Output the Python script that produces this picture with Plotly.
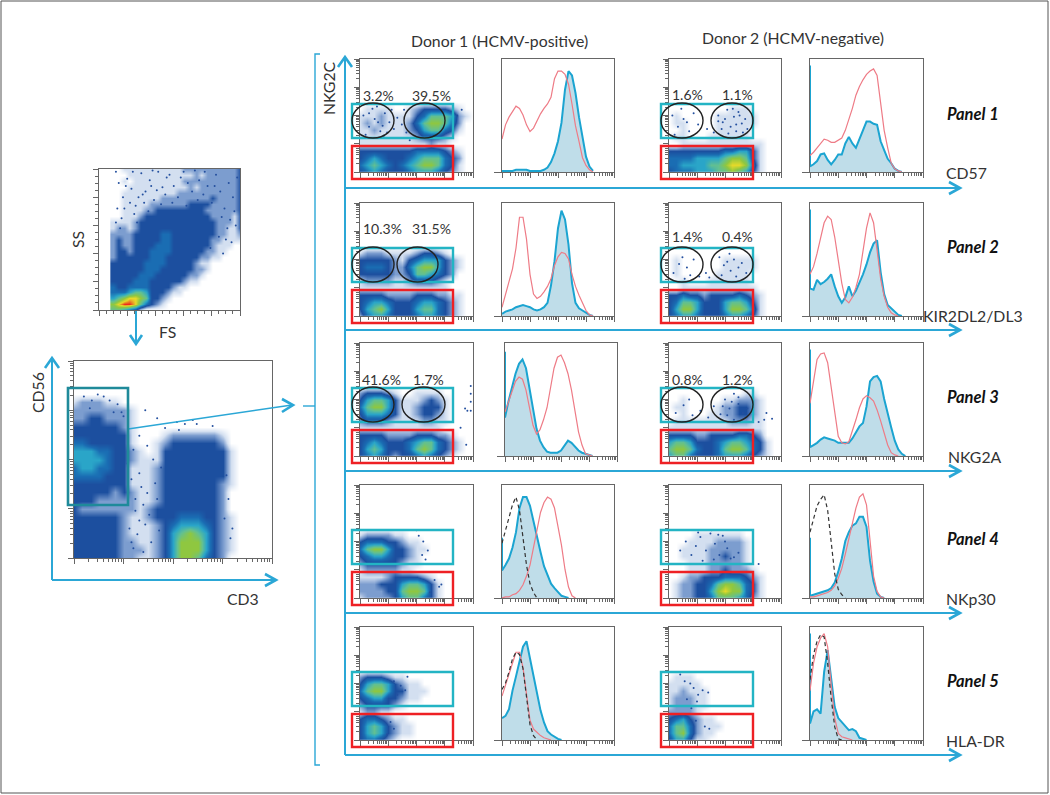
import math
import plotly.graph_objects as go

W, H = 1050, 795

# ---------- density grids (0 = empty ... 9 = densest); rows run top to bottom ----------
SS_FS = ["001111111111122222222223", "000111111111111212222223", "001011111111122222222223",
         "000111111111112122222223", "001111111111222222222223", "001111111222222222322223",
         "001111122222223333222223", "001111223333333332222223", "001112333333333333222213",
         "111123333333333333322213", "122123333333333333322113", "222233333443333333322112",
         "232233333443333333221111", "232233334443333333211100", "233233344443333332211000",
         "233333344433333322110000", "333333444433333211000000", "333333444333333221000000",
         "333334443333332210000000", "333344433333321100000000", "433444433332110000000000",
         "444566533321100000000000", "567887633210000000000000", "789986432100000000000000",
         "665431000000000000000000"]
CD56_CD3 = ["0000000000000000000000000", "0000000000000000000000000", "0000000000000000000000000",
            "0000000000000000000000000", "0000000000000000000000000", "1222110000000000000000000",
            "2222222100000000000000000", "2233222100000000000000000", "3333332100000000000000000",
            "3333333100012222221000000", "4433333100123333332000000", "5554433210133333333100000",
            "5555433211133333333100000", "4554433111233333333100000", "4444333111233333333100000",
            "3333333111233333332100000", "3333323211233333332000000", "3332222211233333332000000",
            "3222222212333333332000000", "3333332112333444332100000", "3333332111234555432100000",
            "3333332111235676532100000", "3333332211235777532100000", "3333332221235777532100000",
            "3333332211235776432000000"]
D1_P1 = ["00000000000000000", "01111001233332100", "11121111346665210", "12121112467764200",
         "11211112356643100", "11111111233321000", "11111111112110000", "33333333444432100",
         "34543334566643200", "45654345677643100", "34543334555432100"]
D1_P2 = ["00000000000000000", "12221111233210000", "33333213455532100", "34443224677532100",
         "33333223665432000", "12222112333210000", "11111111111110000", "33332222333221100",
         "34554333455432100", "35675333566432100", "24554333455432100"]
D1_P3 = ["00000000000000000", "23332100111100000", "35665311123210000", "46775311233310000",
         "35554311233210000", "23332111122110000", "11111111111100000", "33332222333221000",
         "34543334566432100", "35653334676432100", "34543233454321000"]
D1_P4 = ["00000000000000000", "12222110000000000", "34443321100000000", "46775332110000000",
         "34554332100000000", "23333321100000000", "12222211000000000", "11112333321000000",
         "22233356653100000", "22223367763100000", "12222356643100000"]
D1_P5 = ["00000000000000000", "23332110000000000", "35665321100000000", "46775331110000000",
         "34553321100000000", "23333210000000000", "12211000000000000", "34432110000000000",
         "35653211000000000", "35653211000000000", "34432100000000000"]
D2_P1 = ["00000000000000000", "00000000011100000", "01000001111110000", "01100001111110000",
         "00100001111100000", "01100011111100000", "00111111111111000", "33333333445531000",
         "44445555677631000", "44555566788741000", "34445556676531000"]
D2_P2 = ["00000000000000000", "00000000000000000", "01000000111110000", "01000000111110000",
         "01000001111100000", "00100011111100000", "00111111111110000", "33433233334321000",
         "34665333566531000", "35775333577641000", "34554333455431000"]
D2_P3 = ["00000000000000000", "00000000000110000", "00100000112221000", "01100001223321000",
         "00100011223321000", "01111111122211000", "11111111111111000", "33332233334432000",
         "56653334566543100", "67764334677643100", "56643334555432100"]
D2_P4 = ["00000000000000000", "00001111111000000", "00011112222100000", "00111122222100000",
         "00111122322100000", "00011122222100000", "00011122322210000", "00122333444321000",
         "01223346776431000", "01223357877431000", "01223346665421000"]
D2_P5 = ["00000000000000000", "01110000000000000", "11111000000000000", "11211100000000000",
         "12221100000000000", "12221100000000000", "22221000000000000", "34532110000000000",
         "46642111000000000", "46742110000000000", "35531100000000000"]

# scattered single events
SPARSE_SS_X = [.12,.14,.17,.20,.23,.26,.30,.33,.36,.39,.42,.45,.48,.13,.16,.19,.24,.28,.32,.35,.38,.41,.44,.47,.50,
               .53,.56,.60,.63,.66,.52,.58,.62,.68,.71,.74,.77,.80,.83,.86,.89,.92,.95,.98,.70,.75,.82,.87,.91,.96,
               .15,.22,.27,.12,.18,.25,.31,.37,.90,.94,.85,.79,.93,.88,.97]
SPARSE_SS_Y = [.98,.90,.80,.93,.86,.74,.97,.84,.92,.78,.98,.87,.94,.72,.65,.88,.98,.80,.76,.70,.99,.85,.75,.82,.96,
               .88,.80,.98,.90,.84,.76,.94,.74,.99,.92,.82,.88,.76,.96,.84,.72,.90,.80,.94,.78,.98,.88,.66,.58,.70,
               .58,.76,.62,.62,.72,.68,.82,.88,.50,.48,.52,.44,.64,.40,.60]
SPARSE_CD56_X = [.36,.42,.52,.56,.60,.33,.30,.37,.40,.33,.46,.53,.27,.29,.34,.31,.35,.38,.42,.28,.32,.36,.39,.43,
                 .30,.35,.41,.44,.31,.37,.29,.33,.77,.78,.76,.80,.79,.05,.12,.18,.22,.09,.15,.24,.08,.20,.25,.62,.70]
SPARSE_CD56_Y = [.75,.71,.69,.68,.70,.62,.55,.57,.50,.43,.66,.65,.48,.40,.36,.30,.27,.22,.30,.15,.12,.17,.08,.14,
                 .05,.03,.38,.46,.24,.33,.08,.19,.42,.30,.20,.15,.10,.82,.83,.80,.78,.80,.82,.74,.76,.74,.72,.68,.67]
SPARSE_D1_P1_X = [.03,.08,.13,.18,.22,.26,.30,.05,.11,.16,.20,.24,.28,.33,.37,.41,.08,.15,.21,.35,.39,.44,.86,.90,.84]
SPARSE_D1_P1_Y = [.50,.40,.47,.36,.52,.44,.38,.33,.56,.44,.41,.35,.55,.48,.42,.35,.52,.58,.32,.30,.55,.28,.50,.55,.42]
SPARSE_D1_P3_X = [.98,.98,.98,.93,.98,.95,.89,.94]
SPARSE_D1_P3_Y = [.62,.55,.48,.42,.40,.40,.25,.10]
SPARSE_D1_P4_X = [.52,.56,.60,.55,.58,.50,.62,.70,.72,.62,.66]
SPARSE_D1_P4_Y = [.55,.50,.42,.38,.34,.60,.30,.10,.12,.05,.16]
SPARSE_D1_P5_X = [.30,.36,.40,.42,.33,.27,.30,.24]
SPARSE_D1_P5_Y = [.52,.48,.44,.56,.40,.16,.10,.05]
SPARSE_D2_P1_X = [.03,.08,.13,.18,.22,.05,.11,.16,.26,.34,.40,.44,.48,.52,.55,.58,.60,.62,.65,.68,.70,.47,.53,.57,.63,.66,.44,.50,.60]
SPARSE_D2_P1_Y = [.50,.40,.47,.36,.52,.33,.56,.44,.42,.38,.35,.50,.44,.55,.40,.49,.36,.53,.43,.47,.38,.38,.34,.56,.50,.35,.45,.47,.42]
SPARSE_D2_P2_X = [.04,.09,.14,.19,.16,.22,.27,.33,.36,.45,.49,.52,.55,.58,.62,.65,.69,.47,.54,.60,.12]
SPARSE_D2_P2_Y = [.38,.46,.33,.36,.43,.50,.35,.38,.34,.52,.45,.48,.40,.50,.43,.47,.38,.36,.55,.35,.52]
SPARSE_D2_P3_X = [.06,.13,.18,.21,.28,.35,.40,.46,.50,.54,.58,.62,.66,.70,.75,.80,.85,.87,.92,.58,.52,.62,.48,.56]
SPARSE_D2_P3_Y = [.38,.45,.50,.36,.40,.34,.44,.37,.50,.42,.55,.46,.38,.42,.30,.30,.32,.38,.33,.32,.36,.52,.44,.48]
SPARSE_D2_P4_X = [.10,.15,.20,.24,.28,.33,.37,.41,.45,.48,.52,.55,.30,.35,.40,.44,.50,.53,.58,.62,.26,.38,.80]
SPARSE_D2_P4_Y = [.42,.50,.38,.46,.54,.42,.57,.48,.38,.55,.44,.35,.33,.30,.34,.56,.50,.30,.36,.40,.58,.60,.30]
SPARSE_D2_P5_X = [.14,.22,.26,.30,.35,.28,.32,.24,.36,.20,.10,.16,.19,.25]
SPARSE_D2_P5_Y = [.52,.46,.40,.44,.42,.30,.12,.17,.10,.28,.58,.36,.50,.34]

# ---------- histograms (percent of plot height) ----------
HIST_X = [i / 32 for i in range(33)]
H1_P1_BLUE = [1,1,1,1,2,2,2,2,1,1,1,1,2,4,9,17,28,45,75,92,88,72,50,30,14,5,1]
H1_P1_RED = [30,43,50,55,60,58,52,43,37,40,47,53,58,62,68,85,92,92,89,80,62,42,28,13,6,2,0]
H1_P2_BLUE = [2,4,5,6,8,9,10,9,8,6,5,6,8,12,28,50,80,96,88,65,30,12,7,5,3,1,0]
H1_P2_RED = [8,20,30,43,62,90,90,70,38,20,16,18,22,27,34,46,54,58,57,52,38,27,19,12,5,1,0]
H1_P3_BLUE = [35,50,62,75,84,88,80,62,45,25,14,8,4,3,3,3,5,10,14,12,8,5,3,2,1,0]
H1_P3_RED = [40,50,60,68,72,70,60,45,28,20,24,33,44,62,80,90,92,85,75,60,40,22,10,2,1,0]
H1_P4_BLUE = [25,30,36,46,60,82,92,92,84,70,55,42,29,20,13,9,5,2,1,0]
H1_P4_RED = [0,1,1,3,4,7,12,20,30,45,60,78,87,92,90,82,65,48,26,10,2,0]
H1_P4_DASH = [50,62,75,85,92,80,55,30,13,5,0]
H1_P5_BLUE = [20,22,28,45,58,72,85,90,75,60,43,27,16,8,5,3,1,0]
H1_P5_RED = [40,50,60,72,80,80,66,42,18,10,7,4,2,1,0]
H1_P5_DASH = [46,52,62,74,80,78,65,40,14,4,0]
H2_P1_BLUE = [5,7,10,16,17,11,7,11,16,16,26,32,26,22,30,38,46,46,44,43,28,20,12,8,3,1,0]
H2_P1_RED = [15,18,22,26,30,29,27,27,29,31,38,47,58,70,78,84,89,92,94,88,60,38,22,8,3,1,0]
H2_P2_BLUE = [25,24,33,29,31,34,38,27,18,12,17,27,18,23,30,38,47,58,66,69,40,20,10,7,4,1,0]
H2_P2_RED = [38,45,57,70,85,91,88,72,52,30,15,12,17,26,38,58,80,94,85,60,34,18,8,3,1,0]
H2_P3_BLUE = [8,10,12,15,17,16,15,14,12,12,12,12,16,22,27,30,45,68,72,73,68,52,38,26,14,6,2,0]
H2_P3_RED = [48,70,88,93,94,85,62,38,18,12,11,13,22,33,44,52,55,53,50,42,32,20,10,3,1,0]
H2_P4_BLUE = [2,3,4,5,6,7,9,14,24,36,52,60,66,68,74,74,65,34,15,4,1,0]
H2_P4_RED = [1,1,2,3,4,5,7,11,18,27,40,55,70,82,92,95,85,50,20,6,1,0]
H2_P4_DASH = [60,72,84,90,94,80,50,22,8,3,0]
H2_P5_BLUE = [15,26,28,24,62,82,55,30,20,16,12,9,10,8,2,1,0]
H2_P5_RED = [45,70,85,93,97,85,50,20,6,3,2,1,0]
H2_P5_DASH = [55,78,90,96,94,70,38,12,1,0]

PERCENTS_D1 = [("3.2%", "39.5%"), ("10.3%", "31.5%"), ("41.6%", "1.7%")]
PERCENTS_D2 = [("1.6%", "1.1%"), ("1.4%", "0.4%"), ("0.8%", "1.2%")]
MARKERS = ["CD57", "KIR2DL2/DL3", "NKG2A", "NKp30", "HLA-DR"]
PANELS = ["Panel 1", "Panel 2", "Panel 3", "Panel 4", "Panel 5"]

# ---------- styling / layout constants ----------
FONT = "Lato"
TXT = "#333333"
CY = "#2ba7d6"
FILL = "#bfdde9"
BLUE = "#1ba4d1"
RED = "#ee7b86"
COLORSCALE = [[0, "#ffffff"], [1/9, "#d3dff0"], [2/9, "#7c9dcf"], [3/9, "#1c4f9f"], [4/9, "#1a6db3"],
              [5/9, "#2aa5c8"], [6/9, "#62c092"], [7/9, "#8fc740"], [8/9, "#e6da2a"], [1, "#ee2a1e"]]
SUB = [math.log10(k) for k in range(2, 10)]
LOG_MAJOR = [0, .25, .5, .75, 1]
LOG_MINOR = [(d + s) / 4 for d in range(4) for s in SUB]
LIN_MAJOR = [0, .2, .4, .6, .8, 1]
LIN_MINOR = [i * .05 for i in range(21) if i % 4]

fig = go.Figure()
axis_count = [0]


def X(px):
    return px / W


def Y(py):
    return 1 - py / H


def new_axes(x0, x1, y0, y1, major=LOG_MAJOR, minor=LOG_MINOR, ymode="log"):
    axis_count[0] += 1
    n = axis_count[0]
    suffix = "" if n == 1 else str(n)
    base = dict(range=[0, 1], showgrid=False, zeroline=False, showline=True, mirror=True, linecolor="#666666",
                linewidth=1, ticks="outside", ticklen=5, tickcolor="#666666", tickwidth=1, showticklabels=False,
                fixedrange=True)
    xa = dict(base, domain=[X(x0), X(x1)], anchor="y" + suffix, tickmode="array", tickvals=major,
              minor=dict(tickmode="array", tickvals=minor, ticks="outside", ticklen=3, tickcolor="#666666"))
    ya = dict(base, domain=[Y(y1), Y(y0)], anchor="x" + suffix)
    if ymode == "log":
        ya.update(tickmode="array", tickvals=major,
                  minor=dict(tickmode="array", tickvals=minor, ticks="outside", ticklen=3, tickcolor="#666666"))
    else:
        ya.update(range=[0, 1.03], tickmode="array", tickvals=[0], ticklen=7)
    fig.update_layout({"xaxis" + suffix: xa, "yaxis" + suffix: ya})
    return "x" + suffix, "y" + suffix


def density(rows, box, xs, ys, major=LOG_MAJOR, minor=LOG_MINOR, sparse=None):
    xa, ya = new_axes(*box, major=major, minor=minor)
    z = [[int(c) for c in r] for r in rows]
    fig.add_trace(go.Heatmap(x=xs, y=ys, z=z, zmin=0, zmax=9, colorscale=COLORSCALE, zsmooth="best",
                             showscale=False, hoverinfo="skip", xaxis=xa, yaxis=ya))
    if sparse:
        fig.add_trace(go.Scatter(x=sparse[0], y=sparse[1], mode="markers", xaxis=xa, yaxis=ya, showlegend=False,
                                 marker=dict(size=2, color="#24509f"), hoverinfo="skip"))


def hist(box, blue, red, dash=None, edge=None):
    xa, ya = new_axes(*box, ymode="hist")
    bx, by = HIST_X[:len(blue)], blue
    if edge:
        bx, by = [0] + bx, [edge] + by
    by = [v / 100 for v in by]
    fig.add_trace(go.Scatter(x=bx, y=by, mode="lines", fill="tozeroy", fillcolor=FILL, showlegend=False,
                             line=dict(color=BLUE, width=2), xaxis=xa, yaxis=ya, hoverinfo="skip"))
    fig.add_trace(go.Scatter(x=HIST_X[:len(red)], y=[v / 100 for v in red], mode="lines", showlegend=False,
                             line=dict(color=RED, width=1.2), xaxis=xa, yaxis=ya, hoverinfo="skip"))
    if dash:
        fig.add_trace(go.Scatter(x=HIST_X[:len(dash)], y=[v / 100 for v in dash], mode="lines", showlegend=False,
                                 line=dict(color="#333333", width=1.2, dash="4px,3px"), xaxis=xa, yaxis=ya,
                                 hoverinfo="skip"))


# left-hand plots
density(SS_FS, (99, 240, 169, 310), xs=[.10 + i * .9 / 23 for i in range(24)], ys=[1 - j / 24 for j in range(25)],
        major=LIN_MAJOR, minor=LIN_MINOR, sparse=(SPARSE_SS_X, SPARSE_SS_Y))
density(CD56_CD3, (74, 272, 361, 558), xs=[i / 24 for i in range(25)], ys=[1 - j / 24 for j in range(25)],
        sparse=(SPARSE_CD56_X, SPARSE_CD56_Y))

TOPS = [59, 203, 343, 485, 627]
SMALL_X = [i / 16 for i in range(17)]
SMALL_Y = [(10 - j) / 16 for j in range(11)]
D1_ROWS = [D1_P1, D1_P2, D1_P3, D1_P4, D1_P5]
D2_ROWS = [D2_P1, D2_P2, D2_P3, D2_P4, D2_P5]
D1_SP = [(SPARSE_D1_P1_X, SPARSE_D1_P1_Y), None, (SPARSE_D1_P3_X, SPARSE_D1_P3_Y), (SPARSE_D1_P4_X, SPARSE_D1_P4_Y),
         (SPARSE_D1_P5_X, SPARSE_D1_P5_Y)]
D2_SP = [(SPARSE_D2_P1_X, SPARSE_D2_P1_Y), (SPARSE_D2_P2_X, SPARSE_D2_P2_Y), (SPARSE_D2_P3_X, SPARSE_D2_P3_Y),
         (SPARSE_D2_P4_X, SPARSE_D2_P4_Y), (SPARSE_D2_P5_X, SPARSE_D2_P5_Y)]
for i, t in enumerate(TOPS):
    density(D1_ROWS[i], (360, 473, t, t + 113), SMALL_X, SMALL_Y, sparse=D1_SP[i])
    density(D2_ROWS[i], (669, 781, t, t + 113), SMALL_X, SMALL_Y, sparse=D2_SP[i])

H1_LEFT = [502, 502, 505, 502, 502]
hist((H1_LEFT[0], H1_LEFT[0] + 112, TOPS[0], TOPS[0] + 113), H1_P1_BLUE, H1_P1_RED)
hist((H1_LEFT[1], H1_LEFT[1] + 112, TOPS[1], TOPS[1] + 113), H1_P2_BLUE, H1_P2_RED)
hist((H1_LEFT[2], H1_LEFT[2] + 112, TOPS[2], TOPS[2] + 113), H1_P3_BLUE, H1_P3_RED, edge=95)
hist((H1_LEFT[3], H1_LEFT[3] + 112, TOPS[3], TOPS[3] + 113), H1_P4_BLUE, H1_P4_RED, H1_P4_DASH, edge=55)
hist((H1_LEFT[4], H1_LEFT[4] + 112, TOPS[4], TOPS[4] + 113), H1_P5_BLUE, H1_P5_RED, H1_P5_DASH)
hist((810, 923, TOPS[0], TOPS[0] + 113), H2_P1_BLUE, H2_P1_RED, edge=97)
hist((810, 923, TOPS[1], TOPS[1] + 113), H2_P2_BLUE, H2_P2_RED, edge=97)
hist((810, 923, TOPS[2], TOPS[2] + 113), H2_P3_BLUE, H2_P3_RED, edge=97)
hist((810, 923, TOPS[3], TOPS[3] + 113), H2_P4_BLUE, H2_P4_RED, H2_P4_DASH, edge=55)
hist((810, 923, TOPS[4], TOPS[4] + 113), H2_P5_BLUE, H2_P5_RED, H2_P5_DASH, edge=97)

# ---------- overlay drawn in page pixels ----------
shapes = []


def seg(pts, color=CY, width=2):
    path = "M " + " L ".join(f"{X(a):.5f},{Y(b):.5f}" for a, b in pts)
    shapes.append(dict(type="path", path=path, xref="paper", yref="paper", layer="above",
                       line=dict(color=color, width=width)))


def rect(x0, y0, x1, y1, color, width=2.4):
    shapes.append(dict(type="rect", xref="paper", yref="paper", x0=X(x0), x1=X(x1), y0=Y(y0), y1=Y(y1),
                       layer="above", line=dict(color=color, width=width)))


def oval(x0, y0, x1, y1):
    shapes.append(dict(type="circle", xref="paper", yref="paper", x0=X(x0), x1=X(x1), y0=Y(y0), y1=Y(y1),
                       layer="above", line=dict(color="#222222", width=1.4)))


def arrow_r(x0, y, x1):
    seg([(x0, y), (x1, y)])
    seg([(x1 - 11, y - 6), (x1, y), (x1 - 11, y + 6)], width=2.6)


# page frame
rect(1, 1, 1048, 793, "#555555", width=1)

# row arrows and main axes
for y in [188, 330, 471, 613, 755]:
    arrow_r(345, y, 960)
seg([(345, 755), (345, 57)])
seg([(338, 67), (345, 57), (352, 67)], width=2.6)
seg([(320, 54), (315, 54), (315, 765), (320, 765)], width=1.4)
seg([(303, 406), (315, 406)], width=1.4)

# left axes and connecting arrows
seg([(136, 311), (136, 344)])
seg([(130, 335), (136, 344), (142, 335)], width=2.6)
seg([(52, 580), (52, 358)])
seg([(45, 368), (52, 358), (59, 368)], width=2.6)
arrow_r(52, 580, 276)
seg([(128, 429), (292, 405)], width=1.5)
seg([(282, 399), (293, 405), (282, 412)], width=2.6)
rect(68, 388, 128, 505, "#1f8a9a", width=2.6)

# gates
for i, t in enumerate(TOPS):
    for x0, x1 in [(352, 453), (661, 753)]:
        rect(x0, t + 45, x1, t + 79, "#23b4c4")
        rect(x0, t + 87, x1, t + 120, "#ee2024")

OVALS = [(352, 394, 404, 445), (352, 394, 397, 438), (352, 394, 402, 445)]
for i in range(3):
    t = TOPS[i]
    a, b, c, d = OVALS[i]
    oval(a, t + 44, b, t + 79)
    oval(c, t + 44, d, t + 79)
    oval(661, t + 44, 703, t + 79)
    oval(711, t + 44, 753, t + 79)

# ---------- text ----------
ann = []


def text(s, x, y, size=15.8, angle=0, color=TXT):
    ann.append(dict(text=s, x=X(x), y=Y(y), xref="paper", yref="paper", xanchor="center", yanchor="middle",
                    showarrow=False, textangle=angle, font=dict(family=FONT, size=size, color=color)))


text("Donor 1 (HCMV-positive)", 499, 41)
text("Donor 2 (HCMV-negative)", 793, 38)
text("NKG2C", 329, 88, angle=-90)
text("SS", 78, 240, angle=-90)
text("FS", 167, 331)
text("CD56", 37, 393, angle=-90)
text("CD3", 243, 598)

PCT_Y = [96, 229, 379]
PCT_X_D1 = [(378, 431), (382, 431), (381, 428)]
PCT_Y2 = [95, 237, 379]
for i in range(3):
    text(PERCENTS_D1[i][0], PCT_X_D1[i][0], PCT_Y[i], size=14)
    text(PERCENTS_D1[i][1], PCT_X_D1[i][1], PCT_Y[i], size=14)
    text(PERCENTS_D2[i][0], 687, PCT_Y2[i], size=14)
    text(PERCENTS_D2[i][1], 737, PCT_Y2[i], size=14)

MARKER_POS = [(966, 173), (973, 315), (975, 456), (971, 598), (975, 740)]
PANEL_Y = [114, 247, 397, 539, 681]
for m, (x, y) in zip(MARKERS, MARKER_POS):
    text(m, x, y)
for p, y in zip(PANELS, PANEL_Y):
    text(f"<b><i>{p}</i></b>", 973, y, size=16.5, color="#111111")

fig.update_layout(width=W, height=H, margin=dict(l=0, r=0, t=0, b=0), autosize=False, showlegend=False,
                  paper_bgcolor="white", plot_bgcolor="rgba(0,0,0,0)", shapes=shapes, annotations=ann)
fig.write_html("out.html", config={"displayModeBar": False}, post_script="document.body.style.margin='0';")
